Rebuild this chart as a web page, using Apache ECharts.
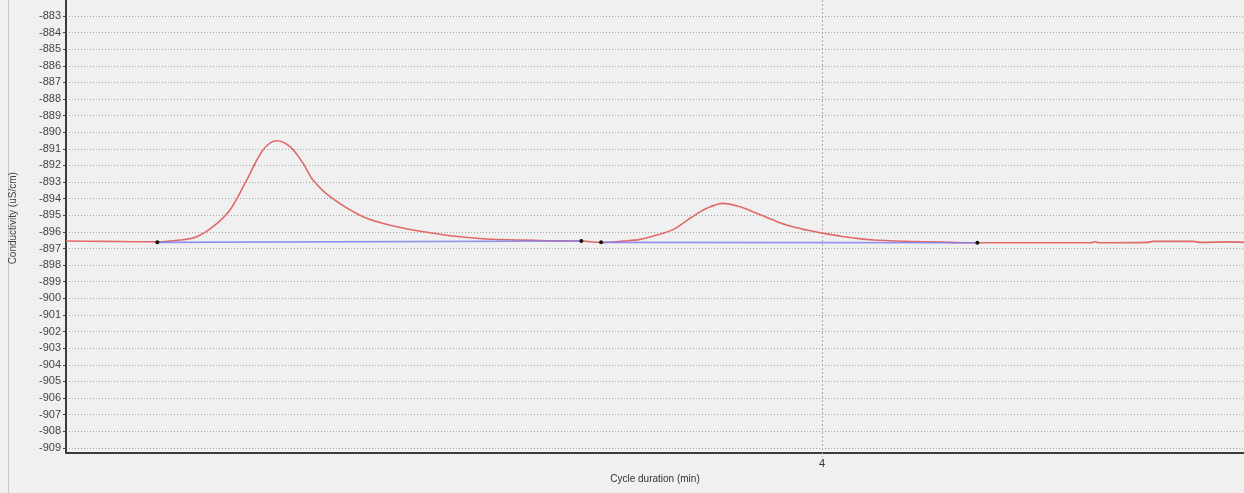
<!DOCTYPE html>
<html><head><meta charset="utf-8">
<script src="https://cdn.jsdelivr.net/npm/echarts@6/dist/echarts.min.js"></script>
<style>html,body{margin:0;padding:0;background:#f0f0f0;}#c{width:1244px;height:493px;}</style>
</head><body><div id="c"></div>
<script>
// Conductivity signal (red)
const signalTime = [3.000, 3.050, 3.090, 3.1208, 3.1508, 3.1729, 3.1944, 3.2169, 3.2390, 3.2606, 3.2787, 3.2963, 3.3135, 3.3267, 3.3492, 3.3929, 3.4374, 3.4815, 3.5119, 3.5565, 3.6005, 3.6358, 3.6816, 3.6931, 3.7077, 3.7372, 3.7593, 3.7813, 3.8033, 3.8254, 3.8475, 3.8694, 3.8915, 3.9136, 3.9356, 3.9577, 3.9798, 4.0017, 4.0238, 4.0459, 4.0680, 4.0899, 4.1120, 4.1561, 4.1914, 4.2054, 4.2354, 4.3000, 4.3550, 4.3611, 4.3670, 4.4300, 4.4378, 4.4907, 4.5000, 4.5357, 4.5582];
const signalValue = [-896.55, -896.57, -896.59, -896.60, -896.49, -896.29, -895.69, -894.68, -892.88, -891.07, -890.51, -890.87, -891.87, -892.88, -893.88, -895.09, -895.69, -896.05, -896.25, -896.43, -896.49, -896.53, -896.55, -896.59, -896.63, -896.55, -896.45, -896.19, -895.85, -895.18, -894.58, -894.28, -894.49, -894.88, -895.29, -895.65, -895.89, -896.09, -896.25, -896.39, -896.49, -896.53, -896.57, -896.61, -896.65, -896.65, -896.65, -896.65, -896.65, -896.59, -896.65, -896.63, -896.57, -896.57, -896.63, -896.60, -896.63];
// Integration baselines (blue)
const baseline1Time = [3.1208, 3.6816];
const baseline1Value = [-896.63, -896.55];
const baseline2Time = [3.7077, 4.2054];
const baseline2Value = [-896.63, -896.65];
// Axis settings
const xMin = 3.0, xMax = 4.558, xInterval = 1;
const yMin = -909.28, yMax = -882.04, ySplits = 27;
const xName = 'Cycle duration (min)';
const yName = 'Conductivity (uS/cm)';

const zip = (a, b) => a.map((v, i) => [v, b[i]]);
const chart = echarts.init(document.getElementById('c'), null, {renderer: 'canvas'});
const font = 'Liberation Sans, Arial, sans-serif';
const dotted = {color: '#a4a4a4', type: [1, 2], width: 1};
chart.setOption({
  backgroundColor: '#f0f0f0',
  animation: false,
  textStyle: {fontFamily: font},
  graphic: [{type: 'line', shape: {x1: 8.5, y1: 0, x2: 8.5, y2: 493}, style: {stroke: '#c8c8c8', lineWidth: 1}, silent: true}],
  grid: {left: 66, right: 0, top: 0, bottom: 40.5, containLabel: false},
  xAxis: {
    type: 'value', min: xMin, max: xMax, interval: xInterval,
    name: xName, nameLocation: 'middle', nameGap: 19,
    nameTextStyle: {fontSize: 10, color: '#333', fontFamily: font},
    axisLine: {show: true, lineStyle: {color: '#3c3c3c', width: 2}},
    axisTick: {show: true, length: 5, lineStyle: {color: '#aaa', type: [2, 2]}},
    axisLabel: {fontSize: 11, color: '#333', margin: 6, showMinLabel: false, showMaxLabel: false, fontFamily: font},
    splitLine: {show: true, showMinLine: false, showMaxLine: false, lineStyle: {color: '#a9a9a9', type: [2, 2], width: 1}}
  },
  yAxis: {
    type: 'value', min: yMin, max: yMax, splitNumber: ySplits,
    name: yName, nameLocation: 'middle', nameGap: 48,
    nameTextStyle: {fontSize: 10, color: '#444', fontFamily: font, padding: [0, 0, 0, 16]},
    axisLine: {show: true, lineStyle: {color: '#3c3c3c', width: 2}},
    axisTick: {show: true, length: 3, lineStyle: {color: '#444'}},
    axisLabel: {fontSize: 11, color: '#444', margin: 5, showMinLabel: false, showMaxLabel: false, fontFamily: font},
    splitLine: {show: true, showMinLine: false, showMaxLine: false, lineStyle: dotted}
  },
  series: [
    {type: 'line', data: zip(signalTime, signalValue), smooth: 0.35, showSymbol: false, lineStyle: {color: '#e06a6a', width: 1.6}, z: 2},
    {type: 'line', data: zip(baseline1Time, baseline1Value), showSymbol: true, symbol: 'circle', symbolSize: 4, itemStyle: {color: '#111'}, lineStyle: {color: '#7f7fee', width: 1.6, opacity: 0.85}, z: 3},
    {type: 'line', data: zip(baseline2Time, baseline2Value), showSymbol: true, symbol: 'circle', symbolSize: 4, itemStyle: {color: '#111'}, lineStyle: {color: '#7f7fee', width: 1.6, opacity: 0.85}, z: 3}
  ]
});
</script>
</body></html>
